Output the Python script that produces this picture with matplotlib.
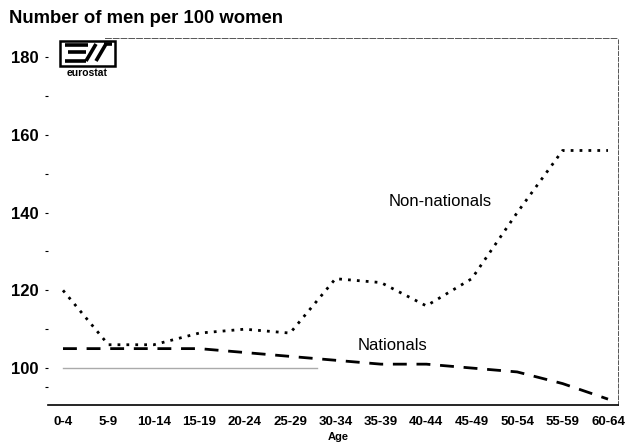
import matplotlib
matplotlib.use("Agg")
import matplotlib.pyplot as plt
from matplotlib.patches import Rectangle
from matplotlib.lines import Line2D

# Age groups and ratios
age_groups = ["0-4", "5-9", "10-14", "15-19", "20-24", "25-29", "30-34",
              "35-39", "40-44", "45-49", "50-54", "55-59", "60-64"]
non_nationals = [120, 106, 106, 109, 110, 109, 123, 122, 116, 123, 140, 156, 156]
nationals = [105, 105, 105, 105, 104, 103, 102, 101, 101, 100, 99, 96, 92]
y_ticks = [100, 120, 140, 160, 180]

W, H = 627, 445
plt.rcParams["font.family"] = ["Liberation Sans", "DejaVu Sans"]

fig = plt.figure(figsize=(W / 100, H / 100), dpi=100)
ax = fig.add_axes([48 / W, 0.09, 570 / W, 0.825])

x = list(range(len(age_groups)))
ax.plot(x, non_nationals, color="black", linestyle=(0, (1, 2.2)), linewidth=2.0)
ax.plot(x, nationals, color="black", linestyle=(0, (5, 3.5)), linewidth=2.0)
ax.plot([0, 5.6], [100, 100], color="#aaaaaa", linewidth=1.0)

ax.set_xlim(-0.33, 12.22)
ax.set_ylim(90.5, 185)
ax.set_xticks(x)
ax.set_xticklabels(age_groups, fontsize=9.5, fontweight="bold")
ax.set_yticks(y_ticks)
ax.set_yticklabels([str(v) for v in y_ticks], fontsize=12, fontweight="bold")
ax.set_yticks([95, 110, 130, 150, 170], minor=True)
ax.tick_params(axis="y", which="both", length=2, width=0.8, pad=5)
ax.tick_params(axis="x", length=0, pad=8)
ax.set_xlabel("Age", fontsize=8, fontweight="bold")
ax.xaxis.set_label_coords(0.51, -0.075)

ax.spines["left"].set_visible(False)
ax.spines["bottom"].set_linewidth(1.2)
ax.spines["top"].set_linestyle((0, (6, 2)))
ax.spines["top"].set_color("#555555")
ax.spines["top"].set_linewidth(0.7)
ax.spines["top"].set_bounds(0.93, 12.22)
ax.spines["right"].set_linestyle((0, (4, 2)))
ax.spines["right"].set_color("#555555")
ax.spines["right"].set_linewidth(0.7)

ax.text(8.3, 142.8, "Non-nationals", fontsize=12, ha="center", va="center")
ax.text(7.25, 105.9, "Nationals", fontsize=12, ha="center", va="center")

fig.text(0.014, 0.958, "Number of men per 100 women", fontsize=13.3, fontweight="bold",
         ha="left", va="center")


# eurostat logo, drawn roughly in pixel positions
def px(xp, yp):
    return xp / W, 1 - yp / H


fig.patches.append(Rectangle(px(60, 66), 55 / W, 25 / H, transform=fig.transFigure,
                             facecolor="white", edgecolor="black", linewidth=1.8))
logo_strokes = [
    [(65, 45), (88, 45)],
    [(68, 52), (86, 52)],
    [(65, 61), (86, 61)],
    [(86, 61), (96, 44)],
    [(96, 61), (106, 44)],
    [(104, 44), (112, 44)],
]
for (x0, y0), (x1, y1) in logo_strokes:
    a, b = px(x0, y0)
    c, d = px(x1, y1)
    fig.lines.append(Line2D([a, c], [b, d], transform=fig.transFigure,
                            color="black", linewidth=2.6, solid_capstyle="butt"))
fig.text(*px(87.5, 73), "eurostat", fontsize=7.5, fontweight="bold",
         ha="center", va="center")

fig.savefig("out.png", dpi=100)
